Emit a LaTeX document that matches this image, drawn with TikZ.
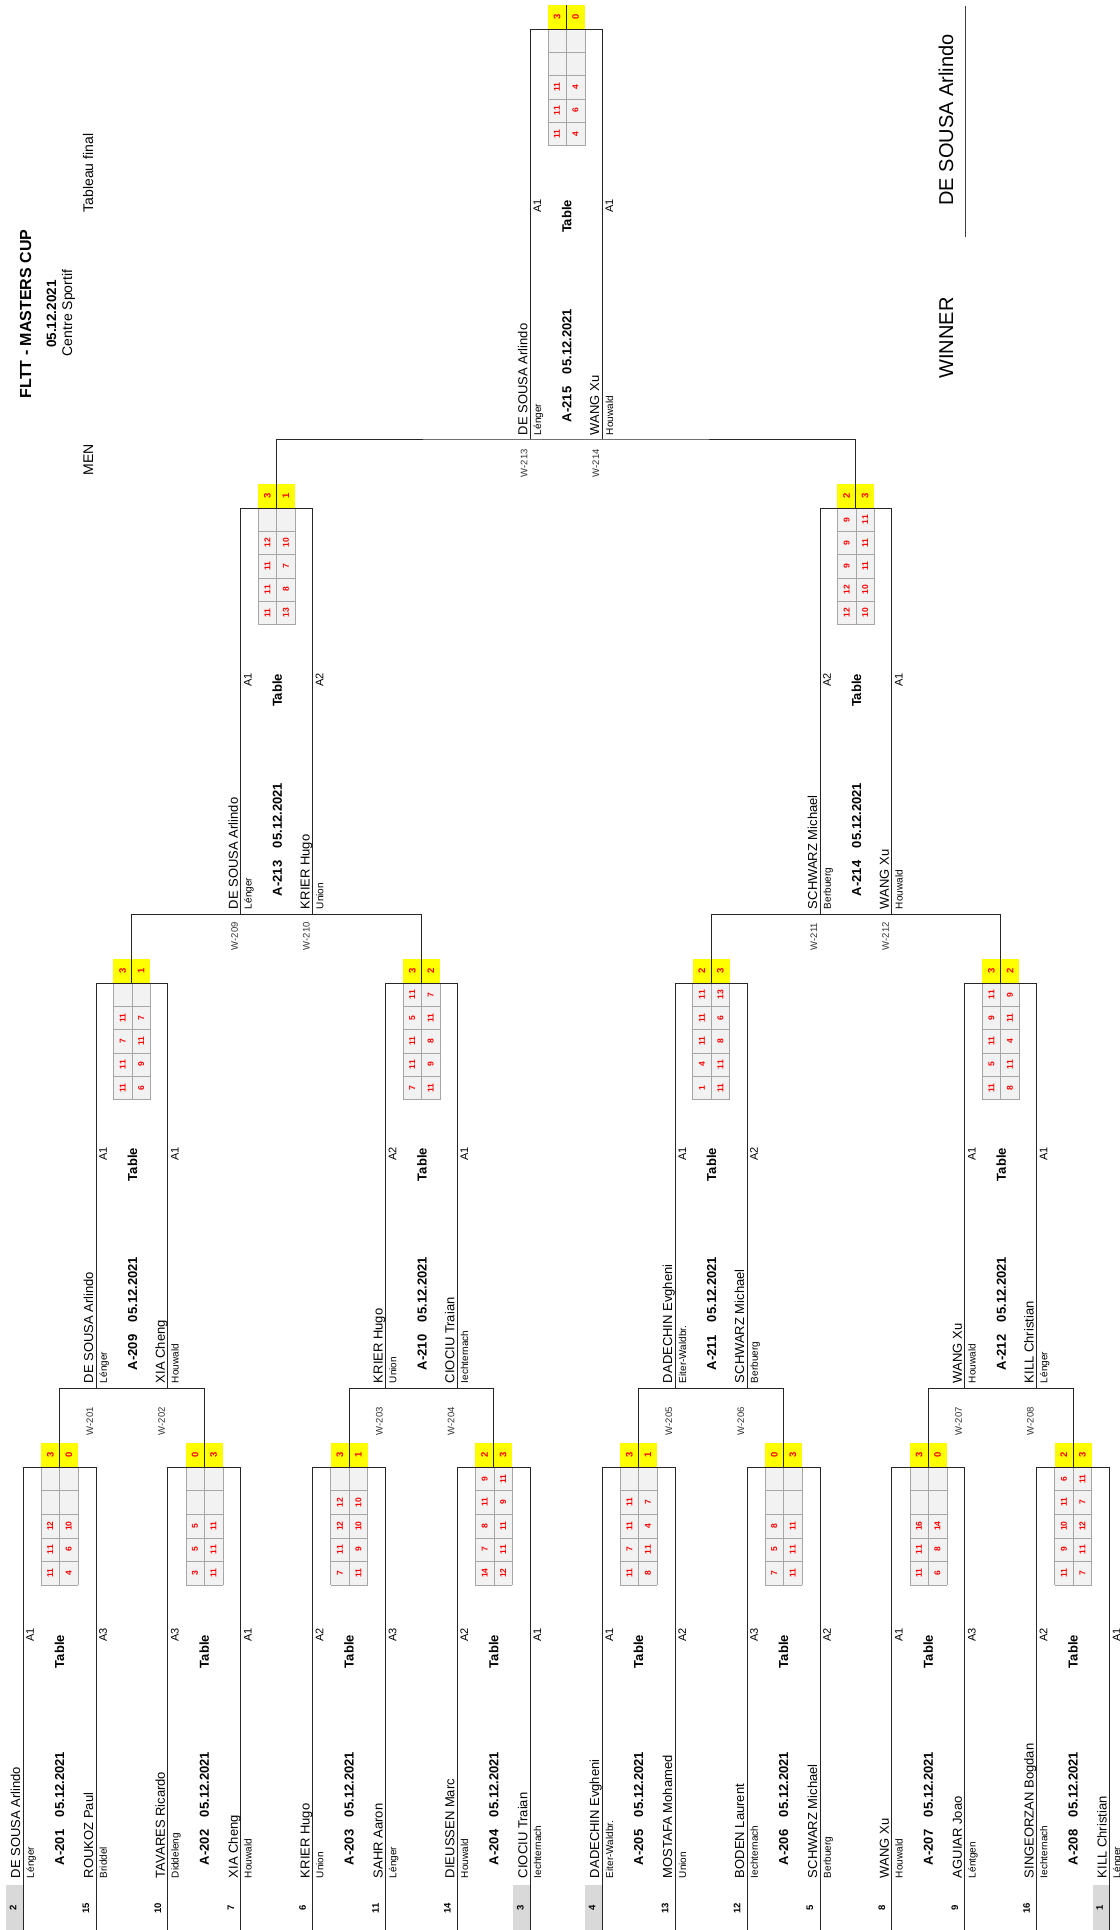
\documentclass[tikz,border=0pt]{standalone}
\usepackage{fontspec}
\setmainfont{Liberation Sans}
\newcommand\fs[1]{\fontsize{#1}{#1}\selectfont}
\definecolor{ylw}{HTML}{FFFF00}
\definecolor{scred}{HTML}{FF0000}
\definecolor{cellgray}{HTML}{F2F2F2}
\definecolor{seedgray}{HTML}{D9D9D9}
\definecolor{gridline}{HTML}{A6A6A6}
\tikzset{
  rt/.style={rotate=90, inner sep=0pt, outer sep=0pt},
  nametxt/.style={rt, anchor=base west, font=\fs{13}},
  clubtxt/.style={rt, anchor=base west, font=\fs{10}},
  alabel/.style={rt, anchor=base east, font=\fs{11}},
  boldtxt/.style={rt, font=\fs{13}\bfseries},
  wlabel/.style={rt, anchor=base west, font=\fs{9.5}, text=black!80},
  seedtxt/.style={rt, anchor=center, font=\fs{9.5}\bfseries},
  scoretxt/.style={rt, anchor=center, font=\fs{8.5}\bfseries, text=scred},
  settxt/.style={rt, anchor=center, font=\fs{9.5}\bfseries, text=scred},
  bline/.style={line width=1pt, draw=black!85},
  gline/.style={line width=0.6pt, draw=gridline},
}
% frame of one match: id, L1, L2, T, B, row height
\newcommand\MFrame[6]{%
  \pgfmathsetmacro\mcx{(#2+#3)/2}%
  \pgfmathsetmacro\mgl{\mcx-18.5}%
  \pgfmathsetmacro\mgr{\mcx+18.5}%
  \pgfmathsetmacro\mgb{#4+5*#6}%
  \pgfmathsetmacro\myt{#4-24}%
  \coordinate (#1-c) at (\mcx,#4);
  \coordinate (#1-b) at (\mcx,#5);
  \coordinate (#1-p1t) at (#2,#4);
  \coordinate (#1-p1b) at (#2,#5);
  \coordinate (#1-p2t) at (#3,#4);
  \coordinate (#1-p2b) at (#3,#5);
  \coordinate (#1-yt) at (\mcx,\myt);
  \fill[ylw] (\mgl,\myt) rectangle (\mgr,#4);
  \fill[cellgray] (\mgl,#4) rectangle (\mgr,\mgb);
  \foreach \ri in {1,...,5} {\draw[gline] (\mgl,{#4+\ri*#6}) -- (\mgr,{#4+\ri*#6});}
  \draw[gline] (\mgl,#4) -- (\mgl,\mgb) (\mcx,#4) -- (\mcx,\mgb) (\mgr,#4) -- (\mgr,\mgb);
  \draw[bline] (#1-p1b) -- (#1-p1t) -- (#1-p2t) -- (#1-p2b);
  \draw[bline] (#1-yt) -- (#1-c);
}
% scores: id, L1, L2, T, rowh, sets1, sets2, games
\newcommand\MScore[8]{%
  \pgfmathsetmacro\mcx{(#2+#3)/2}%
  \node[settxt] (#1-s1) at ({\mcx-9.25},{#4-12}) {#6};
  \node[settxt] (#1-s2) at ({\mcx+9.25},{#4-12}) {#7};
  \foreach \pa/\pb [count=\g] in {#8} {
    \node[scoretxt] (#1-g\g-a) at ({\mcx-9.25},{#4+(5.5-\g)*#5}) {\pa};
    \node[scoretxt] (#1-g\g-b) at ({\mcx+9.25},{#4+(5.5-\g)*#5}) {\pb};
  }
}
% player: id, L, nameStart, name, club, table label
\newcommand\MPlayer[6]{%
  \node[nametxt] (#1-n) at ({#2-3},#3) {#4};
  \node[clubtxt] (#1-club) at ({#2+10.8},#3) {#5};
  \node[alabel] (#1-al) at ({#2+10.8},{#3-\aoff}) {#6};
}
% code line: id, L1, nameStart, code
\newcommand\MCode[4]{%
  \node[boldtxt,anchor=base west] (#1-code) at ({#2+41},{#3-13}) {#4};
  \node[boldtxt,anchor=base west] (#1-date) at ({#2+41},{#3-61}) {05.12.2021};
  \node[boldtxt,anchor=base east] (#1-tab) at ({#2+41},{#3-\toff}) {Table};
}
% seed: id, L, number, gray(1/0)
\newcommand\MSeed[4]{%
  \ifnum#4=1 \fill[seedgray] ({#2-17},1885) rectangle ({#2-0.5},1930);\fi
  \node[seedtxt] (#1-seed) at ({#2-10},1908) {#3};
}
\begin{document}
\begin{tikzpicture}[x=1pt,y=-1pt]
\useasboundingbox (0,0) rectangle (1119,1930);
\fill[white] (0,0) rectangle (1119,1930);

% ---------- header ----------
\node[rt, anchor=base, font=\fs{16}\bfseries] (title) at (31,314) {FLTT - MASTERS CUP};
\node[rt, anchor=base, font=\fs{13.5}\bfseries] (hdate) at (56,314) {05.12.2021};
\node[rt, anchor=base, font=\fs{14}] (venue) at (72,313) {Centre Sportif};
\node[rt, anchor=base, font=\fs{14}] (tabfin) at (93,173) {Tableau final};
\node[rt, anchor=base, font=\fs{14}] (men) at (93,460) {MEN};

% ---------- round 1 ----------
\def\aoff{250}\def\toff{243}
% A-201
\MSeed{A201a}{23}{2}{1}
\MSeed{A201b}{96}{15}{0}
\MFrame{A201}{23}{96}{1467}{1930}{23.6}
\MScore{A201}{23}{96}{1467}{23.6}{3}{0}{11/4,11/6,12/10}
\MPlayer{A201a}{23}{1878}{DE SOUSA Arlindo}{Lénger}{A1}
\MPlayer{A201b}{96}{1878}{ROUKOZ Paul}{Briddel}{A3}
\MCode{A201}{23}{1878}{A-201}
% A-202
\MSeed{A202a}{167.8}{10}{0}
\MSeed{A202b}{240.8}{7}{0}
\MFrame{A202}{167.8}{240.8}{1467}{1930}{23.6}
\MScore{A202}{167.8}{240.8}{1467}{23.6}{0}{3}{3/11,5/11,5/11}
\MPlayer{A202a}{167.8}{1878}{TAVARES Ricardo}{Diddeleng}{A3}
\MPlayer{A202b}{240.8}{1878}{XIA Cheng}{Houwald}{A1}
\MCode{A202}{167.8}{1878}{A-202}
% A-203
\MSeed{A203a}{312.6}{6}{0}
\MSeed{A203b}{385.6}{11}{0}
\MFrame{A203}{312.6}{385.6}{1467}{1930}{23.6}
\MScore{A203}{312.6}{385.6}{1467}{23.6}{3}{1}{7/11,11/9,12/10,12/10}
\MPlayer{A203a}{312.6}{1878}{KRIER Hugo}{Union}{A2}
\MPlayer{A203b}{385.6}{1878}{SAHR Aaron}{Lénger}{A3}
\MCode{A203}{312.6}{1878}{A-203}
% A-204
\MSeed{A204a}{457.4}{14}{0}
\MSeed{A204b}{530.4}{3}{1}
\MFrame{A204}{457.4}{530.4}{1467}{1930}{23.6}
\MScore{A204}{457.4}{530.4}{1467}{23.6}{2}{3}{14/12,7/11,8/11,11/9,9/11}
\MPlayer{A204a}{457.4}{1878}{DIEUSSEN Marc}{Houwald}{A2}
\MPlayer{A204b}{530.4}{1878}{CIOCIU Traian}{Iechternach}{A1}
\MCode{A204}{457.4}{1878}{A-204}
% A-205
\MSeed{A205a}{602.2}{4}{1}
\MSeed{A205b}{675.2}{13}{0}
\MFrame{A205}{602.2}{675.2}{1467}{1930}{23.6}
\MScore{A205}{602.2}{675.2}{1467}{23.6}{3}{1}{11/8,7/11,11/4,11/7}
\MPlayer{A205a}{602.2}{1878}{DADECHIN Evgheni}{Eiter-Waldbr.}{A1}
\MPlayer{A205b}{675.2}{1878}{MOSTAFA Mohamed}{Union}{A2}
\MCode{A205}{602.2}{1878}{A-205}
% A-206
\MSeed{A206a}{747}{12}{0}
\MSeed{A206b}{820}{5}{0}
\MFrame{A206}{747}{820}{1467}{1930}{23.6}
\MScore{A206}{747}{820}{1467}{23.6}{0}{3}{7/11,5/11,8/11}
\MPlayer{A206a}{747}{1878}{BODEN Laurent}{Iechternach}{A3}
\MPlayer{A206b}{820}{1878}{SCHWARZ Michael}{Berbuerg}{A2}
\MCode{A206}{747}{1878}{A-206}
% A-207
\MSeed{A207a}{891.8}{8}{0}
\MSeed{A207b}{964.8}{9}{0}
\MFrame{A207}{891.8}{964.8}{1467}{1930}{23.6}
\MScore{A207}{891.8}{964.8}{1467}{23.6}{3}{0}{11/6,11/8,16/14}
\MPlayer{A207a}{891.8}{1878}{WANG Xu}{Houwald}{A1}
\MPlayer{A207b}{964.8}{1878}{AGUIAR Joao}{Léntgen}{A3}
\MCode{A207}{891.8}{1878}{A-207}
% A-208
\MSeed{A208a}{1036.6}{16}{0}
\MSeed{A208b}{1109.6}{1}{1}
\MFrame{A208}{1036.6}{1109.6}{1467}{1930}{23.6}
\MScore{A208}{1036.6}{1109.6}{1467}{23.6}{2}{3}{11/7,9/11,10/12,11/7,6/11}
\MPlayer{A208a}{1036.6}{1878}{SINGEORZAN Bogdan}{Iechternach}{A2}
\MPlayer{A208b}{1109.6}{1878}{KILL Christian}{Lénger}{A1}
\MCode{A208}{1036.6}{1878}{A-208}

% ---------- round 2 ----------
\def\aoff{236}\def\toff{235}
\MFrame{A209}{96}{167.8}{983}{1388}{23.3}
\MScore{A209}{96}{167.8}{983}{23.3}{3}{1}{11/6,11/9,7/11,11/7}
\MPlayer{A209a}{96}{1383}{DE SOUSA Arlindo}{Lénger}{A1}
\MPlayer{A209b}{167.8}{1383}{XIA Cheng}{Houwald}{A1}
\MCode{A209}{96}{1383}{A-209}

\MFrame{A210}{385.6}{457.4}{983}{1388}{23.3}
\MScore{A210}{385.6}{457.4}{983}{23.3}{3}{2}{7/11,11/9,11/8,5/11,11/7}
\MPlayer{A210a}{385.6}{1383}{KRIER Hugo}{Union}{A2}
\MPlayer{A210b}{457.4}{1383}{CIOCIU Traian}{Iechternach}{A1}
\MCode{A210}{385.6}{1383}{A-210}

\MFrame{A211}{675.2}{747}{983}{1388}{23.3}
\MScore{A211}{675.2}{747}{983}{23.3}{2}{3}{1/11,4/11,11/8,11/6,11/13}
\MPlayer{A211a}{675.2}{1383}{DADECHIN Evgheni}{Eiter-Waldbr.}{A1}
\MPlayer{A211b}{747}{1383}{SCHWARZ Michael}{Berbuerg}{A2}
\MCode{A211}{675.2}{1383}{A-211}

\MFrame{A212}{964.8}{1036.6}{983}{1388}{23.3}
\MScore{A212}{964.8}{1036.6}{983}{23.3}{3}{2}{11/8,5/11,11/4,9/11,11/9}
\MPlayer{A212a}{964.8}{1383}{WANG Xu}{Houwald}{A1}
\MPlayer{A212b}{1036.6}{1383}{KILL Christian}{Lénger}{A1}
\MCode{A212}{964.8}{1383}{A-212}

% ---------- round 3 ----------
\MFrame{A213}{240.8}{312.6}{508}{914}{23.3}
\MScore{A213}{240.8}{312.6}{508}{23.3}{3}{1}{11/13,11/8,11/7,12/10}
\MPlayer{A213a}{240.8}{909}{DE SOUSA Arlindo}{Lénger}{A1}
\MPlayer{A213b}{312.6}{909}{KRIER Hugo}{Union}{A2}
\MCode{A213}{240.8}{909}{A-213}

\MFrame{A214}{820}{891.8}{508}{914}{23.3}
\MScore{A214}{820}{891.8}{508}{23.3}{2}{3}{12/10,12/10,9/11,9/11,9/11}
\MPlayer{A214a}{820}{909}{SCHWARZ Michael}{Berbuerg}{A2}
\MPlayer{A214b}{891.8}{909}{WANG Xu}{Houwald}{A1}
\MCode{A214}{820}{909}{A-214}

% ---------- final ----------
\MFrame{A215}{530.4}{602.2}{29}{439}{23.3}
\MScore{A215}{530.4}{602.2}{29}{23.3}{3}{0}{11/4,11/6,11/4}
\MPlayer{A215a}{530.4}{435}{DE SOUSA Arlindo}{Lénger}{A1}
\MPlayer{A215b}{602.2}{435}{WANG Xu}{Houwald}{A1}
\MCode{A215}{530.4}{435}{A-215}

% ---------- brackets ----------
\draw[bline] (A201-c) |- (A209-b) -| (A202-c);
\draw[bline] (A203-c) |- (A210-b) -| (A204-c);
\draw[bline] (A205-c) |- (A211-b) -| (A206-c);
\draw[bline] (A207-c) |- (A212-b) -| (A208-c);
\draw[bline] (A209-c) |- (A213-b) -| (A210-c);
\draw[bline] (A211-c) |- (A214-b) -| (A212-c);
\draw[bline] (A213-c) |- (A215-b) -| (A214-c);

% ---------- winner labels ----------
\node[wlabel] (w201) at (93,1435) {W-201};
\node[wlabel] (w202) at (164.8,1435) {W-202};
\node[wlabel] (w203) at (382.6,1435) {W-203};
\node[wlabel] (w204) at (454.4,1435) {W-204};
\node[wlabel] (w205) at (672.2,1435) {W-205};
\node[wlabel] (w206) at (744,1435) {W-206};
\node[wlabel] (w207) at (961.8,1435) {W-207};
\node[wlabel] (w208) at (1033.6,1435) {W-208};
\node[wlabel] (w209) at (237.8,950) {W-209};
\node[wlabel] (w210) at (309.6,950) {W-210};
\node[wlabel] (w211) at (817,950) {W-211};
\node[wlabel] (w212) at (888.8,950) {W-212};
\node[wlabel] (w213) at (527.4,477) {W-213};
\node[wlabel] (w214) at (599.2,477) {W-214};

% ---------- winner ----------
\node[rt, anchor=base, font=\fs{20}] (winlbl) at (953,338) {WINNER};
\node[rt, anchor=base, font=\fs{20}] (winner) at (953,120) {DE SOUSA Arlindo};
\coordinate (wl1) at (965,6);
\coordinate (wl2) at (965,237);
\draw[line width=1pt, draw=black!75] (wl1) -- (wl2);
\end{tikzpicture}
\end{document}
